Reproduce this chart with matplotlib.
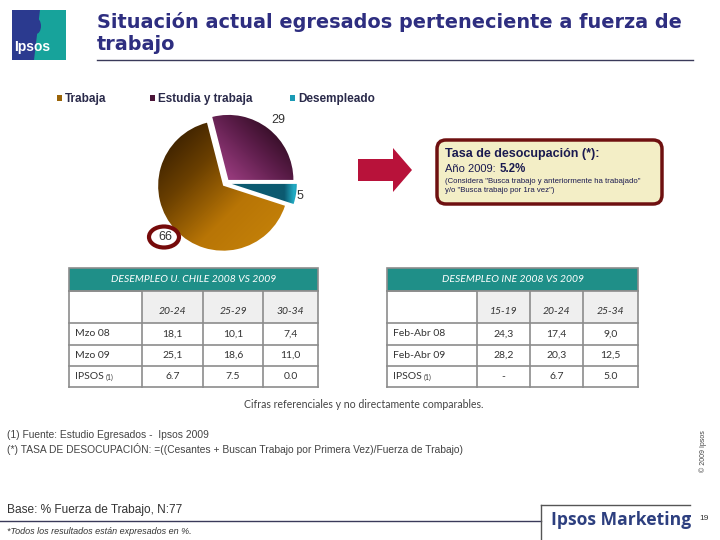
import numpy as np
import matplotlib.pyplot as plt
from matplotlib.patches import Rectangle, Polygon, FancyBboxPatch, Ellipse
from matplotlib.colors import LinearSegmentedColormap

plt.rcParams['font.family'] = ['Liberation Sans', 'DejaVu Sans']

# datos del grafico de torta
pie_labels = ['Trabaja', 'Estudia y trabaja', 'Desempleado']
pie_values = [66, 29, 5]

# tabla izquierda (U. Chile)
left_title = 'DESEMPLEO U. CHILE 2008 VS 2009'
left_cols = ['20-24', '25-29', '30-34']
left_rows = ['Mzo 08', 'Mzo 09', 'IPSOS']
left_vals = [['18,1', '10,1', '7,4'],
             ['25,1', '18,6', '11,0'],
             ['6.7', '7.5', '0.0']]

# tabla derecha (INE)
right_title = 'DESEMPLEO INE 2008 VS 2009'
right_cols = ['15-19', '20-24', '25-34']
right_rows = ['Feb-Abr 08', 'Feb-Abr 09', 'IPSOS']
right_vals = [['24,3', '17,4', '9,0'],
              ['28,2', '20,3', '12,5'],
              ['-', '6.7', '5.0']]

tasa = '5.2%'

navy = '#2e2e80'
teal = '#1f8f88'
grid = '#8c8c8c'
txt = '#333333'

fig = plt.figure(figsize=(7.2, 5.4), dpi=100)
ax = fig.add_axes([0, 0, 1, 1])
ax.set_xlim(0, 720)
ax.set_ylim(540, 0)
ax.axis('off')

# logo Ipsos
ax.add_patch(Rectangle((12, 10), 54, 50, fc='#2b3a8f', ec='none'))
ax.add_patch(Polygon([[40, 10], [66, 10], [66, 60], [34, 60]], fc='#17a39b', ec='none'))
ax.add_patch(Ellipse((36, 26), 10, 16, fc='#2b3a8f', ec='none'))
ax.text(14, 47, 'Ipsos', color='white', fontsize=10, fontweight='bold', va='center', ha='left')

# titulo
ax.text(97, 28, 'Situación actual egresados perteneciente a fuerza de', color=navy,
        fontsize=13.9, fontweight='bold', va='baseline', family='DejaVu Sans')
ax.text(97, 50, 'trabajo', color=navy, fontsize=13.9, fontweight='bold', va='baseline',
        family='DejaVu Sans')
ax.plot([97, 693], [60, 60], color='#3a3a5a', lw=1)

# leyenda
leg_colors = ['#9a6408', '#4a1538', '#1a9ab5']
leg_x = [57, 150, 290]
for lab, c, x in zip(pie_labels, leg_colors, leg_x):
    ax.add_patch(Rectangle((x, 95), 5, 6, fc=c, ec='none'))
    ax.text(x + 8, 99, lab, color='#2a2a4a', fontsize=8.5, fontweight='bold', va='center')

# torta
cx, cy, sc = 226, 183, 65
axp = fig.add_axes([(cx - 90) / 720, (540 - cy - 90) / 540, 180 / 720, 180 / 540])
wedges, _ = axp.pie(pie_values, explode=[0.06, 0.06, 0.09], startangle=-18,
                    counterclock=False, radius=1)
lim = 90 / sc
axp.set_aspect('equal')
axp.axis('off')

gx, gy = np.meshgrid(np.linspace(-1.5, 1.5, 300), np.linspace(-1.5, 1.5, 300))
grads = [
    ((gx - gy) / np.sqrt(2), ['#2e1800', '#6a3f00', '#b87506', '#c58209'], -1.3, 1.2),
    ((gx + gy) / np.sqrt(2), ['#963a7c', '#5c1d4a', '#260818'], 0.1, 1.3),
    (gx, ['#0c5a70', '#22abc4', '#128aa2'], 0.9, 1.2),
]
for w, (v, cols, lo, hi) in zip(wedges, grads):
    cm = LinearSegmentedColormap.from_list('g', cols)
    im = axp.imshow(v, extent=[-1.5, 1.5, -1.5, 1.5], origin='lower', cmap=cm,
                    vmin=lo, vmax=hi, zorder=1)
    im.set_clip_path(w)
    w.set_facecolor('none')
    w.set_edgecolor('none')
axp.set_xlim(-lim, lim)
axp.set_ylim(-lim, lim)

ax.text(278, 120, str(pie_values[1]), color=txt, fontsize=9, ha='center', va='center')
ax.text(300, 196, str(pie_values[2]), color=txt, fontsize=9, ha='center', va='center')
ax.text(165, 237, str(pie_values[0]), color=txt, fontsize=9, ha='center', va='center')
axp.add_patch(Ellipse((164, 237), 30, 21, fc='none', ec='#760a0a', lw=3,
                      transform=ax.transData, clip_on=False, zorder=5))

# flecha
ax.add_patch(Polygon([[358, 159], [393, 159], [393, 148], [412, 170], [393, 192],
                      [393, 181], [358, 181]], fc='#b8123a', ec='none'))

# recuadro tasa
ax.add_patch(FancyBboxPatch((437, 140), 225, 64, boxstyle='round,pad=0,rounding_size=9',
                            fc='#f3eec6', ec='#6e1010', lw=2.5))
ax.text(445, 157, 'Tasa de desocupación (*):', color='#1a1a50', fontsize=9,
        fontweight='bold', va='baseline')
ax.text(445, 172, 'Año 2009:', color='#1a1a50', fontsize=8, va='baseline')
ax.text(500, 172, tasa, color='#1a1a50', fontsize=8.3, fontweight='bold', va='baseline')
ax.text(445, 183, '(Considera "Busca trabajo y anteriormente ha trabajado"', color='#1a1a50',
        fontsize=5.6, va='baseline')
ax.text(445, 192, 'y/o "Busca trabajo por 1ra vez")', color='#1a1a50', fontsize=5.6,
        va='baseline')


def draw_table(xe, title, cols, rows, vals):
    ye = [268, 291, 323, 345, 366, 387]
    x0, x1 = xe[0], xe[-1]
    ax.add_patch(Rectangle((x0, ye[0]), x1 - x0, ye[1] - ye[0], fc=teal, ec=grid, lw=1.2))
    ax.text((x0 + x1) / 2, (ye[0] + ye[1]) / 2, title, color='white', style='italic',
            ha='center', va='center', fontsize=7.5, family='Lato')
    for j in range(3):
        ax.add_patch(Rectangle((xe[j + 1], ye[1]), xe[j + 2] - xe[j + 1], ye[2] - ye[1],
                               fc='#efefef', ec='none'))
        ax.text((xe[j + 1] + xe[j + 2]) / 2, 312, cols[j], color=txt, style='italic',
                ha='center', va='center', fontsize=7.5, family='Lato')
    for i, r in enumerate(rows):
        yc = (ye[i + 2] + ye[i + 3]) / 2
        ax.text(x0 + 6, yc, r, color=txt, ha='left', va='center', fontsize=7.5, family='Lato')
        if r == 'IPSOS':
            ax.text(x0 + 37, yc + 1, '(1)', color=txt, ha='left', va='center', fontsize=5,
                    family='Lato')
        for j in range(3):
            ax.text((xe[j + 1] + xe[j + 2]) / 2, yc, vals[i][j], color=txt, ha='center',
                    va='center', fontsize=7.5, family='Lato')
    for y in ye[1:]:
        ax.plot([x0, x1], [y, y], color=grid, lw=1.2)
    for x in xe:
        ax.plot([x, x], [ye[1], ye[-1]], color=grid, lw=1.2)


draw_table([69, 142, 203, 263, 318], left_title, left_cols, left_rows, left_vals)
draw_table([387, 477, 530, 583, 638], right_title, right_cols, right_rows, right_vals)

ax.text(364, 405, 'Cifras referenciales y no directamente comparables.', color='#444444',
        fontsize=7.6, ha='center', va='center', family='Lato')

# notas
ax.text(7, 435, '(1) Fuente: Estudio Egresados -  Ipsos 2009', color='#444444', fontsize=7.4,
        va='center')
ax.text(7, 449, '(*) TASA DE DESOCUPACIÓN: =((Cesantes + Buscan Trabajo por Primera Vez)/Fuerza de Trabajo)',
        color='#444444', fontsize=7.4, va='center')
ax.text(7, 510, 'Base: % Fuerza de Trabajo, N:77', color='#333333', fontsize=8.6, va='center')
ax.plot([0, 541], [521, 521], color='#3a3a5a', lw=1)
ax.text(7, 531, '*Todos los resultados están expresados en %.', color='#333333', fontsize=6.5,
        style='italic', va='center')

# pie de pagina
ax.plot([541, 541], [505, 540], color='#555555', lw=1)
ax.plot([541, 690], [505, 505], color='#555555', lw=1)
ax.text(551, 520, 'Ipsos Marketing', color='#2d3f7f', fontsize=12.6, fontweight='bold',
        va='center', family='Open Sans')
ax.text(704, 518, '19', color='#333333', fontsize=6, ha='center', va='center')
ax.text(703, 451, '© 2009 Ipsos', color='#444444', fontsize=5, rotation=90,
        ha='center', va='center')

fig.savefig('out.png', dpi=100)
